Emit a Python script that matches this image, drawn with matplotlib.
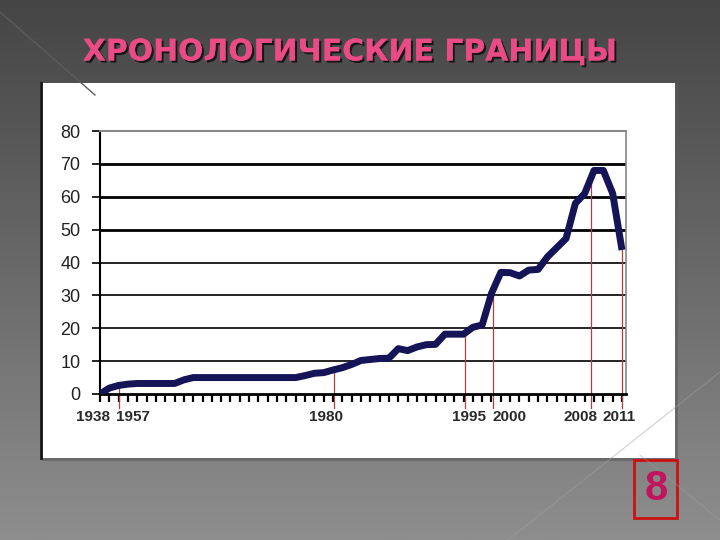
import numpy as np
import matplotlib
matplotlib.use("Agg")
import matplotlib.pyplot as plt
from matplotlib.patches import Rectangle
from matplotlib.lines import Line2D
import matplotlib.patheffects as pe

# ---- data (category index -> value) ----
values = [0, 1.8, 2.6, 3.0, 3.2, 3.2, 3.2, 3.2, 3.2, 4.3,
          5, 5, 5, 5, 5, 5, 5, 5, 5, 5,
          5, 5, 5.6, 6.3, 6.5, 7.3, 8.0, 9.0, 10.2, 10.5,
          10.8, 10.9, 13.8, 13.2, 14.3, 15.0, 15.1, 18.2, 18.2, 18.2,
          20.3, 21.0, 30.6, 37.0, 36.9, 35.9, 37.7, 37.9, 41.7, 44.5,
          47.3, 58.0, 61.0, 68.0, 68.0, 61.0, 43.8]
year_labels = ["1938", "1957", "1980", "1995", "2000", "2008", "2011"]
label_pos = [-0.7, 3.5, 24.2, 39.6, 43.9, 51.5, 55.7]
marker_pos = [2.0, 25.1, 39.2, 42.2, 52.7, 56.0]
y_ticks = [0, 10, 20, 30, 40, 50, 60, 70, 80]
title = "ХРОНОЛОГИЧЕСКИЕ ГРАНИЦЫ"
page_number = "8"

W, H = 720, 540
fig = plt.figure(figsize=(7.2, 5.4), dpi=100)

def fx(px):
    return px / W

def fy(py):
    return 1 - py / H

# background gradient
bg = fig.add_axes([0, 0, 1, 1])
grad = np.linspace(0, 1, 256).reshape(-1, 1)
top = np.array([0x45, 0x45, 0x45]) / 255
bot = np.array([0x8e, 0x8e, 0x8e]) / 255
img = top[None, None, :] * (1 - grad[:, :, None]) + bot[None, None, :] * grad[:, :, None]
bg.imshow(img, aspect="auto", extent=[0, 1, 0, 1], origin="upper")
bg.set_xlim(0, 1)
bg.set_ylim(0, 1)
bg.axis("off")
# faint decorative diagonals
bg.add_line(Line2D([fx(0), fx(95)], [fy(12), fy(95)], color="#5c5c5c", lw=1))
bg.add_line(Line2D([fx(508), fx(720)], [fy(540), fy(372)], color="#a0a0a0", lw=0.8, alpha=0.5))
bg.add_line(Line2D([fx(640), fx(720)], [fy(455), fy(520)], color="#a0a0a0", lw=0.8, alpha=0.4))

# white panel with shadow
bg.add_patch(Rectangle((fx(42), fy(461)), fx(636), (461 - 84) / H,
                       facecolor="#5a5a5a", edgecolor="none", alpha=0.6))
bg.add_patch(Rectangle((fx(40), fy(458)), fx(635), (458 - 83) / H,
                       facecolor="white", edgecolor="none"))
bg.add_line(Line2D([fx(41), fx(41)], [fy(83), fy(458)], color="#111111", lw=2))

# title
fig.text(fx(350), fy(52), title, ha="center", va="center", fontsize=21.5,
         fontweight="bold", color="#ea4b84", family="DejaVu Sans",
         path_effects=[pe.withSimplePatchShadow(offset=(1.5, -1.5), shadow_rgbFace="black", alpha=0.7),
                       pe.Normal()])

# page number box
bg.add_patch(Rectangle((fx(634), fy(518)), fx(43), (518 - 460) / H,
                       facecolor="none", edgecolor="#cc1111", lw=2))
fig.text(fx(656), fy(489), page_number, ha="center", va="center", fontsize=30,
         fontweight="bold", color="#c2135c", family="Liberation Sans")

# chart axes
ax = fig.add_axes([fx(100), fy(394), (626 - 100) / W, (394 - 131) / H])
ax.set_facecolor("white")
x = np.arange(len(values))
ax.set_xlim(0, len(values) - 1 + 0.43)
ax.set_ylim(0, 80)

for v in y_ticks[1:-1]:
    lw = 2.0 if v >= 50 else 1.2
    ax.axhline(v, color="black", lw=lw, zorder=1)

for p in marker_pos:
    top_v = np.interp(p, x, values)
    ax.plot([p, p], [-4.2, top_v], color="#b04040", lw=0.9, zorder=2, clip_on=False)

ax.plot(x, values, color="#141456", lw=5, solid_joinstyle="round",
        solid_capstyle="butt", zorder=3)

ax.spines["top"].set_color("#888888")
ax.spines["top"].set_linewidth(1.5)
ax.spines["right"].set_color("#888888")
ax.spines["right"].set_linewidth(1.2)
ax.spines["left"].set_color("black")
ax.spines["left"].set_linewidth(1.5)
ax.spines["bottom"].set_color("black")
ax.spines["bottom"].set_linewidth(2)

ax.set_yticks(y_ticks)
ax.set_yticklabels([str(v) for v in y_ticks], fontsize=13, color="#222222",
                   family="Liberation Sans")
ax.tick_params(axis="y", direction="out", length=6, width=1.2, pad=8)
ax.set_xticks(x)
ax.set_xticklabels([])
ax.tick_params(axis="x", direction="out", length=6, width=1.6, color="black")

for lab, p in zip(year_labels, label_pos):
    ax.text(p, -7.0, lab, ha="center", va="center", fontsize=11,
            fontweight="bold", color="#2a2a2a", family="Liberation Sans",
            clip_on=False)

fig.savefig("out.png", dpi=100)
